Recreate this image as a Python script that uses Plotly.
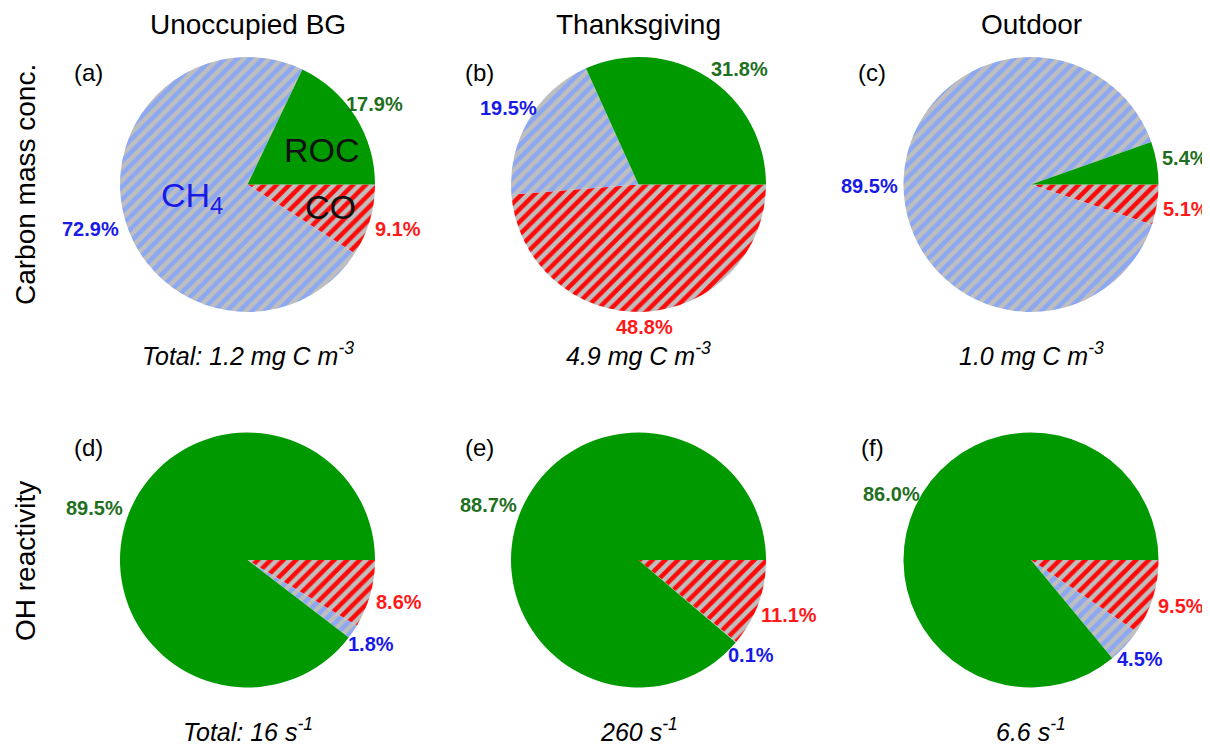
import math
import plotly.graph_objects as go

# slice order: clockwise starting at 3 o'clock
categories = ["CO", "CH4", "ROC"]
carbon_unocc = [9.1, 72.9, 17.9]
carbon_thanks = [48.8, 19.5, 31.8]
carbon_outdoor = [5.1, 89.5, 5.4]
oh_unocc = [8.6, 1.8, 89.5]
oh_thanks = [11.1, 0.1, 88.7]
oh_outdoor = [9.5, 4.5, 86.0]

col_titles = ["Unoccupied BG", "Thanksgiving", "Outdoor"]
row_titles = ["Carbon mass conc.", "OH reactivity"]
panel_tags = ["(a)", "(b)", "(c)", "(d)", "(e)", "(f)"]
totals = ["<i>Total: 1.2 mg C m<sup>-3</sup></i>", "<i>4.9 mg C m<sup>-3</sup></i>", "<i>1.0 mg C m<sup>-3</sup></i>",
          "<i>Total: 16 s<sup>-1</sup></i>", "<i>260 s<sup>-1</sup></i>", "<i>6.6 s<sup>-1</sup></i>"]

W, H = 1210, 746
OFF = 8  # page body margin
FONT = "Liberation Sans, Arial, sans-serif"
GREEN = "#009900"
GRAY = "#BEBEBE"
BLUE_STRIPE = "#8CA8F2"
RED_STRIPE = "#FF0A0A"
label_colors = ["#FF1A1A", "#1A1AE6", "#1F6F1F"]
PCT_SIZE = 20


def px(x):
    return (x - OFF) / W


def py(y):
    return 1 - (y - OFF) / H


def text_width(s, size):
    em = {".": 0.278, "%": 0.889}
    return sum(em.get(ch, 0.556) for ch in s) * size


data_sets = [carbon_unocc, carbon_thanks, carbon_outdoor, oh_unocc, oh_thanks, oh_outdoor]
centers_x = [247.5, 638.5, 1031]
centers_y = [184.5, 560]
R = 127.5
GAP = 6
HALF_H = 9
nudges = {(1, 2): (23, 6)}  # (panel, slice) label nudge in px

fig = go.Figure()
ann = []
for i, vals in enumerate(data_sets):
    r, c = divmod(i, 3)
    cx, cy = centers_x[c], centers_y[r]
    fig.add_trace(go.Pie(
        labels=categories, values=vals, sort=False, direction="clockwise",
        rotation=90,
        domain=dict(x=[px(cx - R), px(cx + R)], y=[py(cy + R), py(cy - R)]),
        marker=dict(colors=[GRAY, GRAY, GREEN], line=dict(width=0),
                    pattern=dict(shape=["/", "/", ""], fgcolor=[RED_STRIPE, BLUE_STRIPE, GREEN],
                                 bgcolor=[GRAY, GRAY, GREEN], size=9, solidity=0.5, fillmode="replace")),
        textinfo="none", showlegend=False, hoverinfo="label+value",
    ))
    # percentage labels just outside each slice, at the slice mid-angle
    total = sum(vals)
    cum = 0.0
    for k, v in enumerate(vals):
        mid = (cum + v / 2) / total * 2 * math.pi  # clockwise from 3 o'clock
        cum += v
        txt = f"{v:.1f}%"
        hw = text_width(txt, PCT_SIZE) / 2
        ux, uy = math.cos(mid), math.sin(mid)  # screen coords (y down)
        t = min(hw / max(abs(ux), 1e-6), HALF_H / max(abs(uy), 1e-6))
        d = R + GAP + t
        lx, ly = cx + d * ux, cy + d * uy
        nx, ny = nudges.get((i, k), (0, 0))
        ann.append(dict(x=px(lx + nx), y=py(ly + ny), text=f"<b>{txt}</b>",
                        font=dict(size=PCT_SIZE, color=label_colors[k], family=FONT)))

for c, t in enumerate(col_titles):
    ann.append(dict(x=px(centers_x[c]), y=py(24), text=t, font=dict(size=28, color="black", family=FONT)))
row_y = [185, 561]
for r, t in enumerate(row_titles):
    ann.append(dict(x=px(25), y=py(row_y[r]), text=t, textangle=-90,
                    font=dict(size=28, color="black", family=FONT)))
for i, t in enumerate(panel_tags):
    r, c = divmod(i, 3)
    ann.append(dict(x=px(centers_x[c] - 159), y=py(centers_y[r] - 112), text=t,
                    font=dict(size=24, color="black", family=FONT)))
for i, t in enumerate(totals):
    r, c = divmod(i, 3)
    ann.append(dict(x=px(centers_x[c]), y=py(centers_y[r] + 170), text=t,
                    font=dict(size=25, color="black", family=FONT)))
# inner labels of panel (a)
ann.append(dict(x=px(322), y=py(150), text="ROC", font=dict(size=34, color="#111111", family=FONT)))
ann.append(dict(x=px(192), y=py(197), text="CH<sub>4</sub>", font=dict(size=34, color="#1A1AE6", family=FONT)))
ann.append(dict(x=px(330), y=py(207), text="CO", font=dict(size=34, color="#111111", family=FONT)))
for a in ann:
    a.update(xref="paper", yref="paper", showarrow=False, xanchor="center", yanchor="middle")

fig.update_layout(width=W, height=H, margin=dict(l=0, r=0, t=0, b=0),
                  paper_bgcolor="white", plot_bgcolor="white", annotations=ann,
                  font=dict(family=FONT))
fig.write_html("out.html")
